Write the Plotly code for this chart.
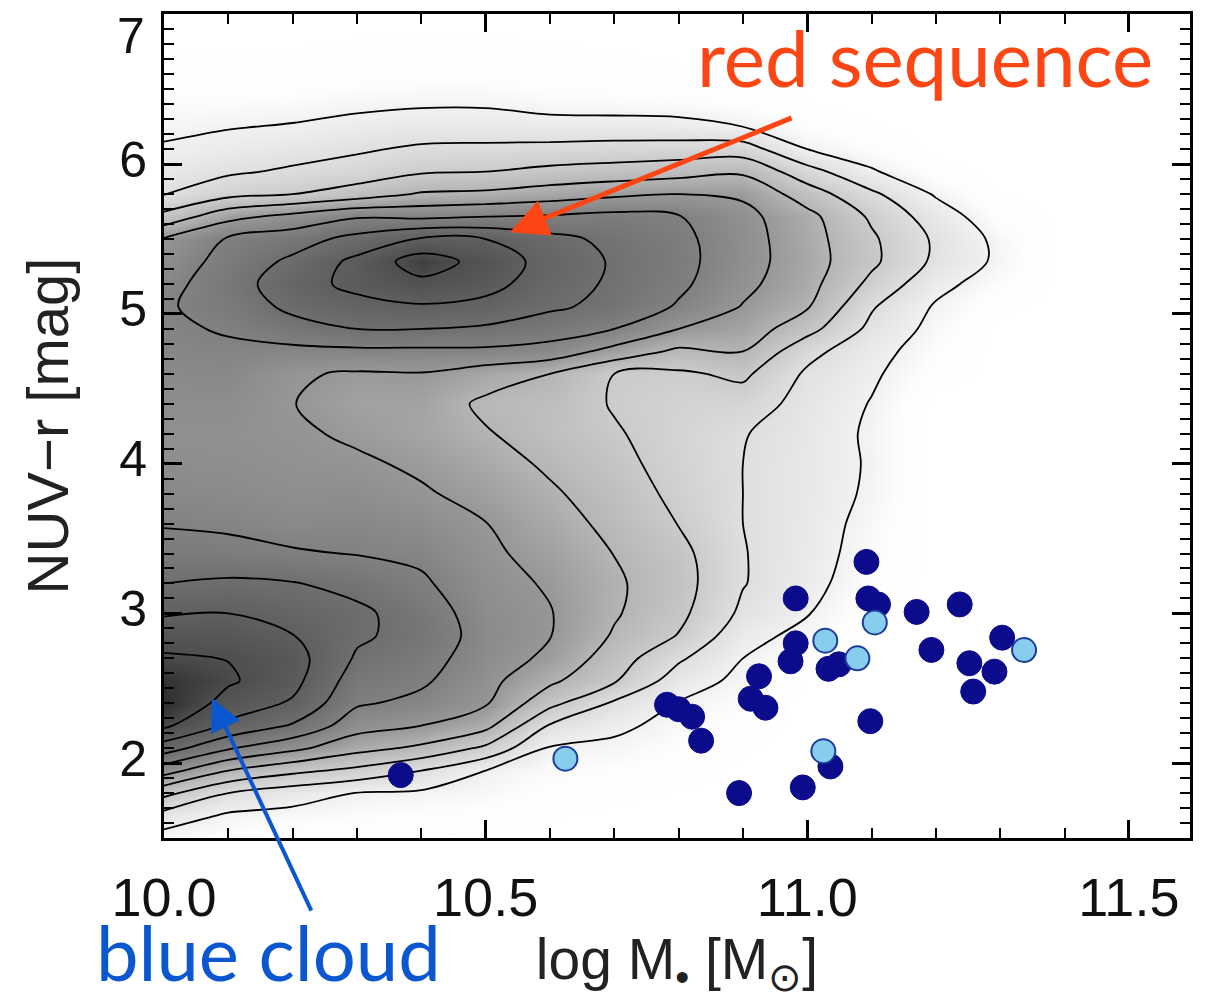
import plotly.graph_objects as go

# ---- density field (contour levels read on a grid) ----
log_mass = [10.0, 10.1, 10.2, 10.3, 10.4, 10.5, 10.6, 10.7, 10.8, 10.9, 11.0, 11.1, 11.2, 11.3, 11.4]
nuv_r = [1.5, 1.65, 1.8, 1.95, 2.1, 2.25, 2.4, 2.55, 2.7, 2.85, 3.0, 3.2, 3.4, 3.6, 3.8, 4.0,
         4.2, 4.4, 4.6, 4.75, 4.9, 5.05, 5.2, 5.35, 5.5, 5.65, 5.8, 5.95, 6.1, 6.25, 6.4, 6.6, 7.0]
density = [
    [0.6, 0.4, 0.25, 0.15, 0.1, 0.05, 0, 0, 0, 0, 0, 0, 0, 0, 0],
    [1.64, 0.85, 0.7, 0.55, 0.45, 0.35, 0.15, 0.05, 0, 0, 0, 0, 0, 0, 0],
    [3.29, 2.0, 1.45, 0.97, 0.85, 0.7, 0.35, 0.2, 0.1, 0, 0, 0, 0, 0, 0],
    [5.43, 4.0, 3.25, 2.75, 2.0, 1.0, 0.6, 0.45, 0.25, 0.05, 0, 0, 0, 0, 0],
    [7.5, 6.1, 5.25, 4.33, 3.8, 2.8, 0.9, 0.8, 0.45, 0.15, 0, 0, 0, 0, 0],
    [9.18, 7.8, 6.9, 5.4, 5.0, 4.3, 1.9, 1.2, 0.7, 0.3, 0, 0, 0, 0, 0],
    [10.1, 8.57, 7.88, 6.12, 5.75, 5.1, 3.3, 1.85, 0.95, 0.5, 0, 0, 0, 0, 0],
    [9.9, 9.15, 8.3, 6.5, 6.15, 5.3, 4.2, 3.1, 1.5, 0.75, 0.1, 0, 0, 0, 0],
    [9.15, 8.97, 8.4, 6.88, 6.4, 5.5, 4.8, 3.5, 2.15, 1.0, 0.35, 0, 0, 0, 0],
    [8.52, 8.48, 8.03, 7.15, 6.65, 5.6, 5.03, 3.9, 2.95, 1.35, 0.7, 0.05, 0, 0, 0],
    [7.91, 8.0, 7.6, 7.2, 6.55, 5.5, 5.05, 4.1, 3.25, 1.8, 1.05, 0.2, 0, 0, 0],
    [7.0, 7.17, 7.05, 6.7, 6.15, 5.35, 4.9, 4.15, 3.4, 2.05, 1.3, 0.45, 0, 0, 0],
    [6.39, 6.27, 6.1, 5.96, 5.8, 5.18, 4.67, 3.98, 3.3, 2.05, 1.4, 0.6, 0, 0, 0],
    [5.93, 5.85, 5.6, 5.7, 5.45, 5.02, 4.4, 3.75, 2.97, 2.0, 1.45, 0.7, 0, 0, 0],
    [5.65, 5.55, 5.4, 5.4, 5.1, 4.72, 4.13, 3.55, 2.75, 2.0, 1.5, 0.85, 0, 0, 0],
    [5.45, 5.4, 5.25, 5.14, 4.85, 4.4, 3.85, 3.3, 2.6, 2.0, 1.5, 0.9, 0, 0, 0],
    [5.3, 5.3, 5.15, 4.85, 4.55, 4.08, 3.55, 3.1, 2.55, 2.05, 1.55, 0.85, 0, 0, 0],
    [5.45, 5.45, 5.02, 4.65, 4.6, 3.8, 3.6, 2.92, 2.6, 2.5, 1.65, 0.95, 0, 0, 0],
    [5.6, 5.65, 5.1, 4.9, 4.95, 4.5, 4.0, 3.0, 2.85, 3.2, 1.85, 1.15, 0.3, 0, 0],
    [5.75, 5.85, 5.75, 5.8, 5.8, 5.8, 5.6, 4.65, 3.8, 4.0, 2.3, 1.35, 0.5, 0, 0],
    [5.85, 6.08, 6.6, 7.0, 7.0, 6.85, 6.5, 6.0, 5.0, 4.6, 3.35, 1.75, 0.7, 0, 0],
    [5.9, 6.35, 7.25, 7.7, 7.9, 7.7, 7.15, 6.75, 5.9, 4.95, 4.1, 2.1, 0.9, 0.2, 0],
    [5.7, 6.5, 7.6, 8.25, 8.75, 8.35, 7.45, 6.85, 6.2, 5.25, 4.35, 2.75, 1.3, 0.5, 0],
    [5.4, 6.35, 7.2, 8.25, 9.5, 8.65, 7.6, 6.9, 6.3, 5.4, 4.45, 3.2, 1.8, 0.8, 0],
    [5.1, 6.1, 6.55, 7.33, 8.1, 8.0, 7.3, 6.75, 6.25, 5.4, 4.4, 3.15, 1.85, 0.75, 0],
    [3.3, 4.7, 5.3, 5.9, 5.8, 6.0, 6.1, 6.3, 6.05, 5.3, 4.3, 2.85, 1.5, 0.4, 0],
    [1.95, 2.7, 3.0, 3.5, 4.1, 4.2, 4.5, 4.8, 5.0, 4.85, 3.5, 2.2, 0.9, 0.1, 0],
    [1.5, 1.85, 2.15, 2.4, 2.9, 3.0, 3.25, 3.4, 3.6, 3.85, 2.4, 1.1, 0.3, 0, 0],
    [1.1, 1.35, 1.6, 1.88, 2.15, 2.2, 2.3, 2.4, 2.45, 2.5, 1.0, 0.5, 0, 0, 0],
    [0.8, 0.95, 1.07, 1.3, 1.5, 1.5, 1.35, 1.35, 1.3, 1.0, 0.45, 0.15, 0, 0, 0],
    [0.55, 0.6, 0.65, 0.8, 0.9, 0.9, 0.7, 0.65, 0.6, 0.45, 0.15, 0, 0, 0, 0],
    [0.2, 0.2, 0.2, 0.3, 0.35, 0.35, 0.25, 0.2, 0.15, 0.1, 0, 0, 0, 0, 0],
    [0, 0, 0, 0, 0, 0, 0, 0, 0, 0, 0, 0, 0, 0, 0],
]

# ---- individual galaxies ----
dark_mass = [10.368, 10.782, 10.80, 10.821, 10.835, 10.912, 10.935, 10.925, 10.974, 10.982,
             10.982, 11.092, 11.095, 11.11, 11.033, 11.049, 11.098, 11.170, 11.237, 11.193,
             11.252, 11.291, 11.258, 11.303, 11.036, 10.993, 10.894]
dark_color = [1.92, 2.39, 2.36, 2.31, 2.15, 2.43, 2.37, 2.58, 2.68, 2.80,
              3.10, 3.344, 3.10, 3.06, 2.63, 2.66, 2.28, 3.01, 3.06, 2.756,
              2.667, 2.611, 2.478, 2.838, 1.978, 1.838, 1.80]
light_mass = [10.624, 11.028, 11.078, 11.105, 11.337, 11.025]
light_color = [2.03, 2.818, 2.70, 2.94, 2.755, 2.08]

x_ticks = [10.0, 10.5, 11.0, 11.5]
y_ticks = [2, 3, 4, 5, 6, 7]
# the top label sits lower than its tick, so it is drawn separately below
y_ticktext = ["2", "3", "4", "5", "6", ""]
TOP_LABEL = "7"

Z_MAX = 10.5
gray_stops = [(0, 255), (0.5, 253), (1, 241), (2, 223), (3, 203), (4, 181), (5, 151),
              (6, 129), (7, 111), (8, 95), (9, 78), (10, 48), (10.5, 36)]
colorscale = [[z / Z_MAX, f"rgb({g},{g},{g})"] for z, g in gray_stops]

fig = go.Figure()
fig.add_trace(go.Contour(
    x=log_mass, y=nuv_r, z=density,
    zmin=0, zmax=Z_MAX, colorscale=colorscale, showscale=False,
    contours=dict(start=1, end=9, size=1, coloring="heatmap", showlines=True),
    line=dict(color="black", width=1.8, smoothing=1.0),
    hoverinfo="skip",
))
fig.add_trace(go.Scatter(
    x=dark_mass, y=dark_color, mode="markers",
    marker=dict(size=25, color="#0b0b8c", line=dict(width=1, color="#0b0b8c")),
    hoverinfo="skip",
))
fig.add_trace(go.Scatter(
    x=light_mass, y=light_color, mode="markers",
    marker=dict(size=24, color="#86cdee", line=dict(width=2, color="#1d3c9e")),
    hoverinfo="skip",
))

axis_common = dict(
    showline=True, linewidth=3, linecolor="black", mirror="ticks",
    ticks="inside", ticklen=18, tickwidth=2.5, tickcolor="black",
    showgrid=False, zeroline=False, automargin=False,
)
TICK_FONT_Y = dict(family="Liberation Sans", size=50, color="#111")

fig.update_xaxes(
    range=[10.0, 11.595], tickvals=x_ticks, ticktext=[f"{v:.1f}" for v in x_ticks],
    tickfont=dict(family="Liberation Sans", size=54, color="#111"),
    minor=dict(ticks="inside", ticklen=10, tickwidth=2, dtick=0.1, tick0=10.0, tickcolor="black"),
    ticklabelstandoff=10,
    title=dict(text="log M<sub>•</sub> [M<sub>⊙</sub>]",
               font=dict(family="Liberation Sans", size=57, color="#222"), standoff=14),
    **axis_common,
)
fig.update_yaxes(
    range=[1.5, 7.003], tickvals=y_ticks, ticktext=y_ticktext,
    tickfont=TICK_FONT_Y,
    minor=dict(ticks="inside", ticklen=10, tickwidth=2, dtick=0.1, tick0=1.5, tickcolor="black"),
    ticklabelstandoff=4, ticklabelshift=-5,
    title=dict(text="NUV−r [mag]", font=dict(family="Liberation Sans", size=58, color="#222"),
               standoff=32),
    **axis_common,
)
fig.add_annotation(xref="paper", yref="paper", x=-0.0175, y=1.0085, text=TOP_LABEL,
                   showarrow=False, xanchor="right", yanchor="top", borderpad=0,
                   font=TICK_FONT_Y)

RED = "#fe4514"
BLUE = "#0b57d0"
fig.add_annotation(xref="paper", yref="paper", x=0.7417, y=0.948, text="red sequence",
                   showarrow=False, xanchor="center", yanchor="middle",
                   font=dict(family="Lato", size=78, color=RED))
fig.add_annotation(x=10.538, y=5.545, xref="x", yref="y", text="", showarrow=True,
                   ax=283, ay=-115, arrowcolor=RED, arrowwidth=5, arrowhead=2,
                   arrowsize=1.5, standoff=0)
fig.add_annotation(xref="paper", yref="paper", x=0.102, y=-0.1954, text="blue cloud",
                   showarrow=False, xanchor="center", yanchor="bottom",
                   font=dict(family="Lato", size=76, color=BLUE))
fig.add_annotation(x=10.0746, y=2.434, xref="x", yref="y", text="", showarrow=True,
                   ax=100, ay=214, arrowcolor=BLUE, arrowwidth=4, arrowhead=2,
                   arrowsize=1.6, standoff=0)

fig.update_layout(
    width=1212, height=999,
    margin=dict(l=164, r=22, t=14, b=161, autoexpand=False),
    paper_bgcolor="white", plot_bgcolor="white",
    showlegend=False,
)

fig.write_html("out.html")
